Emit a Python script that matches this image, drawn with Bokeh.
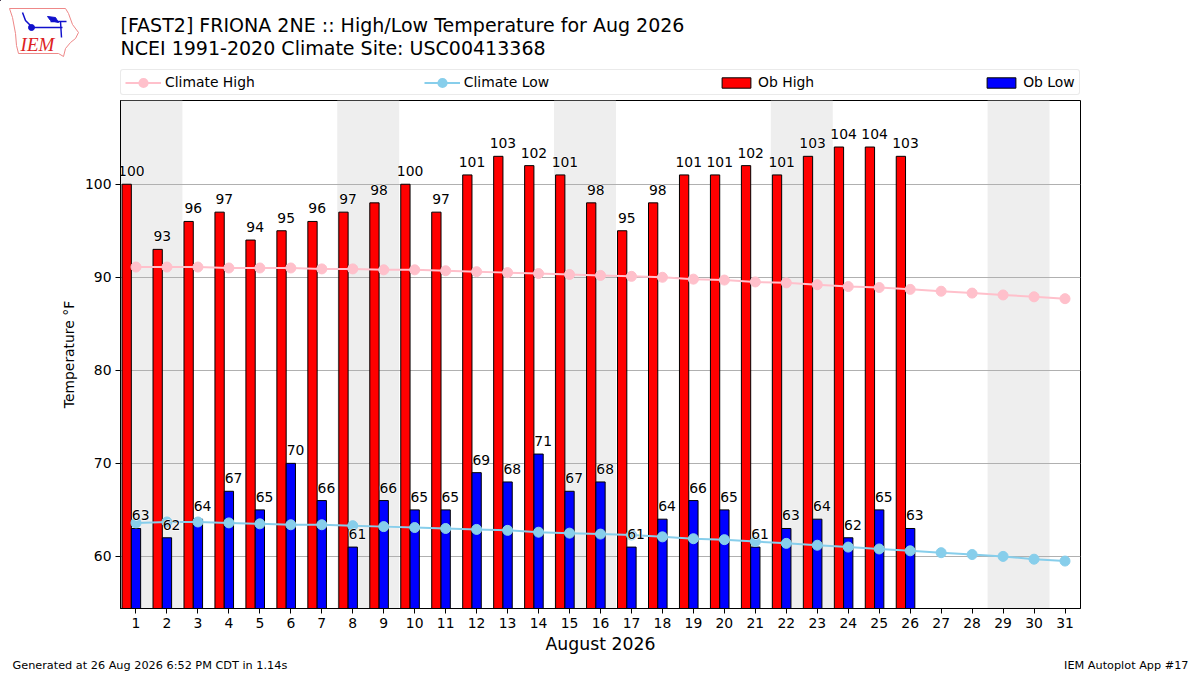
from bokeh.embed import file_html
from bokeh.layouts import column
from bokeh.resources import INLINE
from bokeh.plotting import figure
from bokeh.models import ColumnDataSource, Legend, LegendItem, FixedTicker, Range1d
from bokeh.core.properties import value

FONT = "DejaVu Sans"

days = list(range(1, 32))
ob_days = list(range(1, 27))
ob_high = [100, 93, 96, 97, 94, 95, 96, 97, 98, 100, 97, 101, 103, 102, 101, 98, 95, 98, 101, 101, 102, 101, 103, 104, 104, 103]
ob_low = [63, 62, 64, 67, 65, 70, 66, 61, 66, 65, 65, 69, 68, 71, 67, 68, 61, 64, 66, 65, 61, 63, 64, 62, 65, 63]
climate_high = [91.1, 91.1, 91.1, 91.0, 91.0, 91.0, 90.9, 90.9, 90.8, 90.8, 90.7, 90.6, 90.5, 90.4, 90.3, 90.2,
                90.1, 90.0, 89.8, 89.7, 89.5, 89.4, 89.2, 89.0, 88.9, 88.7, 88.5, 88.3, 88.1, 87.9, 87.7]
climate_low = [63.6, 63.7, 63.7, 63.6, 63.5, 63.4, 63.4, 63.3, 63.2, 63.1, 63.0, 62.9, 62.8, 62.6, 62.5, 62.4,
               62.3, 62.1, 61.9, 61.8, 61.6, 61.4, 61.2, 61.0, 60.8, 60.6, 60.4, 60.2, 60.0, 59.7, 59.5]
weekend_starts = [1, 8, 15, 22, 29]
y_ticks = [60, 70, 80, 90, 100]
title_1 = "[FAST2] FRIONA 2NE :: High/Low Temperature for Aug 2026"
title_2 = "NCEI 1991-2020 Climate Site: USC00413368"
footer_l = "Generated at 26 Aug 2026 6:52 PM CDT in 1.14s"
footer_r = "IEM Autoplot App #17"

W = 1200
HEAD_H, MAIN_H, FOOT_H = 100, 556, 19
YMIN, YMAX = 54.4, 109.0


def strip(h):
    f = figure(width=W, height=h, output_backend="svg", toolbar_location=None,
               x_range=Range1d(0, W), y_range=Range1d(h, 0),
               x_axis_location=None, y_axis_location=None, frame_align=False,
               min_border_left=0, min_border_right=0, min_border_top=0, min_border_bottom=0)
    f.outline_line_color = None
    f.grid.visible = False
    return f


# ---- header: logo, titles, legend
head = strip(HEAD_H)
head.text([120, 120], [24, 47], text=[title_1, title_2], text_font=value(FONT), text_font_size="19.03px",
          text_baseline="middle", text_color="black")

# IEM logo
head.patch([9, 65, 68, 72, 78, 75, 70, 65, 63, 58, 18, 16, 15, 12],
           [8, 8, 13, 24, 32, 38, 42, 48, 56, 53, 53, 45, 33, 17],
           fill_color=None, line_color="#ee8888", line_width=1)
BL = "#1010cc"
head.multi_line([[22, 25, 31], [31, 62], [50, 66], [60, 61]], [[12, 20, 26], [27, 27], [21, 21], [21, 37]],
                line_color=BL, line_width=1.5)
head.scatter([31], [27], size=6, fill_color=BL, line_color=BL)
head.patch([47, 55, 58, 50], [16, 17, 22, 20], fill_color=BL, line_color=BL)
head.text([37], [44], text=["IEM"], text_font=value("Liberation Serif"), text_font_style="italic",
          text_font_size="19px", text_align="center", text_baseline="middle", text_color="#dd2222")

# legend handles: stand-in renderers kept outside the strip's visible range
OFF_X, OFF_Y = [-60, -50], [-20, -20]
lh_l = head.line(OFF_X, OFF_Y, line_color="pink", line_width=2)
lh_m = head.scatter(OFF_X, OFF_Y, marker="circle", size=5, fill_color="pink", line_color="pink", line_width=5)
ll_l = head.line(OFF_X, OFF_Y, line_color="skyblue", line_width=2)
ll_m = head.scatter(OFF_X, OFF_Y, marker="circle", size=5, fill_color="skyblue", line_color="skyblue", line_width=5)
lo_h = head.vbar(x=OFF_X, width=1, bottom=OFF_Y, top=OFF_Y, fill_color="red", line_color="black")
lo_l = head.vbar(x=OFF_X, width=1, bottom=OFF_Y, top=OFF_Y, fill_color="blue", line_color="black")
legend = Legend(items=[LegendItem(label="Climate High", renderers=[lh_l, lh_m]),
                       LegendItem(label="Climate Low", renderers=[ll_l, ll_m]),
                       LegendItem(label="Ob High", renderers=[lo_h]),
                       LegendItem(label="Ob Low", renderers=[lo_l])],
                orientation="horizontal", location=(120, 5), margin=0, padding=4,
                spacing=169, glyph_width=36, glyph_height=13, label_standoff=4,
                label_text_font=FONT, label_text_font_size="13.9px", label_text_color="black",
                border_line_color="#d5d5d5", border_line_width=1, background_fill_color="white")
if "border_radius" in Legend.properties():
    legend.border_radius = 3
head.add_layout(legend, "center")

# ---- main plot
p = figure(width=W, height=MAIN_H, output_backend="svg", toolbar_location=None, frame_align=False,
           x_range=Range1d(0.5, 31.5), y_range=Range1d(YMIN, YMAX),
           min_border_left=120, min_border_right=120, min_border_top=0, min_border_bottom=48)
p.outline_line_color = "black"
p.outline_line_width = 1
p.background_fill_color = "white"

p.vbar(x=[d + 0.5 for d in weekend_starts], width=2, bottom=YMIN, top=YMAX,
       fill_color="#eeeeee", line_color=None, level="image")

p.xgrid.visible = False
p.ygrid.ticker = FixedTicker(ticks=y_ticks)
p.ygrid.grid_line_color = "#b0b0b0"
p.ygrid.grid_line_width = 1

p.vbar(x=[d - 0.3 for d in ob_days], width=0.3, bottom=0, top=ob_high,
       fill_color="red", line_color="black", line_width=1)
p.vbar(x=ob_days, width=0.3, bottom=0, top=ob_low,
       fill_color="blue", line_color="black", line_width=1)

p.line(days, climate_high, line_color="pink", line_width=2)
p.scatter(days, climate_high, marker="circle", size=10, fill_color="pink", line_color="pink")
p.line(days, climate_low, line_color="skyblue", line_width=2)
p.scatter(days, climate_low, marker="circle", size=10, fill_color="skyblue", line_color="skyblue")

for xs, ys in (([d - 0.15 for d in ob_days], ob_high), ([d + 0.15 for d in ob_days], ob_low)):
    src = ColumnDataSource(dict(x=xs, y=ys, t=[str(v) for v in ys]))
    p.text("x", "y", text="t", source=src, text_font=value(FONT), text_font_size="13.9px",
           text_color="white", text_outline_color="white", text_align="center",
           text_baseline="bottom", y_offset=-8)
    p.text("x", "y", text="t", source=src, text_font=value(FONT), text_font_size="13.9px",
           text_color="black", text_align="center", text_baseline="bottom", y_offset=-8)

p.xaxis.ticker = FixedTicker(ticks=days)
p.yaxis.ticker = FixedTicker(ticks=y_ticks)
for ax in (p.xaxis[0], p.yaxis[0]):
    ax.major_tick_out = 5
    ax.major_tick_in = 0
    ax.minor_tick_out = 0
    ax.minor_tick_in = 0
    ax.axis_line_color = "black"
    ax.major_tick_line_color = "black"
    ax.major_label_text_font = FONT
    ax.major_label_text_font_size = "13.9px"
    ax.major_label_text_color = "black"
    ax.axis_label_text_font = FONT
    ax.axis_label_text_font_style = "normal"
    ax.axis_label_text_color = "black"
p.xaxis.axis_label = "August 2026"
p.xaxis.axis_label_text_font_size = "17.3px"
p.xaxis.major_label_standoff = 4
p.xaxis.axis_label_standoff = 3
p.yaxis.axis_label = "Temperature °F"
p.yaxis.axis_label_text_font_size = "13.9px"
p.yaxis.major_label_standoff = 4
p.yaxis.axis_label_standoff = 5

# ---- footer
foot = strip(FOOT_H)
foot.text([12], [9], text=[footer_l], text_font=value(FONT), text_font_size="11.28px",
          text_baseline="middle", text_color="black")
foot.text([1188], [9], text=[footer_r], text_font=value(FONT), text_font_size="11.28px",
          text_align="right", text_baseline="middle", text_color="black")

page = column(head, p, foot, spacing=0)
open("out.html", "w").write(file_html(page, INLINE))
